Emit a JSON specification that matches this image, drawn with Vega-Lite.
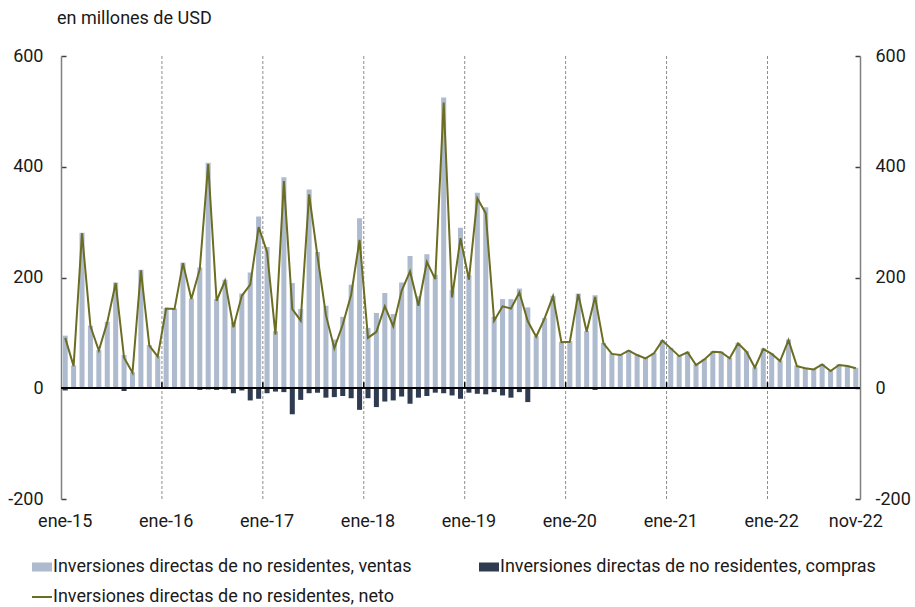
{
  "$schema": "https://vega.github.io/schema/vega-lite/v6.json",
  "width": 799,
  "height": 443,
  "autosize": {"type": "none"},
  "padding": {"left": 61, "top": 56, "right": 55, "bottom": 108},
  "config": {"font": "Roboto", "view": {"stroke": null}},
  "title": {"text": "en millones de USD", "anchor": "start", "frame": "group", "dx": -4, "offset": 19, "fontSize": 18, "fontWeight": "normal", "color": "#1a1a1a", "font": "Roboto"},
  "data": {"values": [
    {"mes": "ene-15", "ventas": 95, "compras": -4, "neto": 91},
    {"mes": "feb-15", "ventas": 41, "compras": -1, "neto": 40},
    {"mes": "mar-15", "ventas": 281, "compras": -1, "neto": 280},
    {"mes": "abr-15", "ventas": 113, "compras": -1, "neto": 112},
    {"mes": "may-15", "ventas": 69, "compras": -1, "neto": 68},
    {"mes": "jun-15", "ventas": 120, "compras": -1, "neto": 119},
    {"mes": "jul-15", "ventas": 191, "compras": -1, "neto": 190},
    {"mes": "ago-15", "ventas": 60, "compras": -5, "neto": 55},
    {"mes": "sep-15", "ventas": 29, "compras": -1, "neto": 28},
    {"mes": "oct-15", "ventas": 214, "compras": -1, "neto": 213},
    {"mes": "nov-15", "ventas": 78, "compras": -1, "neto": 77},
    {"mes": "dic-15", "ventas": 58, "compras": -1, "neto": 57},
    {"mes": "ene-16", "ventas": 145, "compras": -1, "neto": 144},
    {"mes": "feb-16", "ventas": 144, "compras": -1, "neto": 143},
    {"mes": "mar-16", "ventas": 227, "compras": -1, "neto": 226},
    {"mes": "abr-16", "ventas": 162, "compras": -1, "neto": 161},
    {"mes": "may-16", "ventas": 218, "compras": -3, "neto": 215},
    {"mes": "jun-16", "ventas": 407, "compras": -2, "neto": 405},
    {"mes": "jul-16", "ventas": 161, "compras": -3, "neto": 158},
    {"mes": "ago-16", "ventas": 196, "compras": -2, "neto": 194},
    {"mes": "sep-16", "ventas": 119, "compras": -9, "neto": 110},
    {"mes": "oct-16", "ventas": 171, "compras": -4, "neto": 167},
    {"mes": "nov-16", "ventas": 209, "compras": -22, "neto": 187},
    {"mes": "dic-16", "ventas": 310, "compras": -19, "neto": 291},
    {"mes": "ene-17", "ventas": 255, "compras": -9, "neto": 246},
    {"mes": "feb-17", "ventas": 103, "compras": -6, "neto": 97},
    {"mes": "mar-17", "ventas": 381, "compras": -7, "neto": 374},
    {"mes": "abr-17", "ventas": 190, "compras": -47, "neto": 143},
    {"mes": "may-17", "ventas": 143, "compras": -21, "neto": 122},
    {"mes": "jun-17", "ventas": 359, "compras": -9, "neto": 350},
    {"mes": "jul-17", "ventas": 246, "compras": -8, "neto": 238},
    {"mes": "ago-17", "ventas": 149, "compras": -17, "neto": 132},
    {"mes": "sep-17", "ventas": 88, "compras": -16, "neto": 72},
    {"mes": "oct-17", "ventas": 129, "compras": -14, "neto": 115},
    {"mes": "nov-17", "ventas": 187, "compras": -18, "neto": 169},
    {"mes": "dic-17", "ventas": 307, "compras": -39, "neto": 268},
    {"mes": "ene-18", "ventas": 109, "compras": -18, "neto": 91},
    {"mes": "feb-18", "ventas": 136, "compras": -34, "neto": 102},
    {"mes": "mar-18", "ventas": 172, "compras": -24, "neto": 148},
    {"mes": "abr-18", "ventas": 134, "compras": -22, "neto": 112},
    {"mes": "may-18", "ventas": 191, "compras": -15, "neto": 176},
    {"mes": "jun-18", "ventas": 239, "compras": -28, "neto": 211},
    {"mes": "jul-18", "ventas": 166, "compras": -17, "neto": 149},
    {"mes": "ago-18", "ventas": 242, "compras": -14, "neto": 228},
    {"mes": "sep-18", "ventas": 205, "compras": -8, "neto": 197},
    {"mes": "oct-18", "ventas": 525, "compras": -9, "neto": 516},
    {"mes": "nov-18", "ventas": 177, "compras": -13, "neto": 164},
    {"mes": "dic-18", "ventas": 290, "compras": -19, "neto": 271},
    {"mes": "ene-19", "ventas": 204, "compras": -8, "neto": 196},
    {"mes": "feb-19", "ventas": 353, "compras": -10, "neto": 343},
    {"mes": "mar-19", "ventas": 327, "compras": -11, "neto": 316},
    {"mes": "abr-19", "ventas": 129, "compras": -7, "neto": 122},
    {"mes": "may-19", "ventas": 161, "compras": -13, "neto": 148},
    {"mes": "jun-19", "ventas": 161, "compras": -17, "neto": 144},
    {"mes": "jul-19", "ventas": 180, "compras": -7, "neto": 173},
    {"mes": "ago-19", "ventas": 146, "compras": -25, "neto": 121},
    {"mes": "sep-19", "ventas": 94, "compras": -1, "neto": 93},
    {"mes": "oct-19", "ventas": 127, "compras": -1, "neto": 126},
    {"mes": "nov-19", "ventas": 167, "compras": -1, "neto": 166},
    {"mes": "dic-19", "ventas": 84, "compras": -1, "neto": 83},
    {"mes": "ene-20", "ventas": 85, "compras": -1, "neto": 84},
    {"mes": "feb-20", "ventas": 171, "compras": -1, "neto": 170},
    {"mes": "mar-20", "ventas": 103, "compras": -1, "neto": 102},
    {"mes": "abr-20", "ventas": 168, "compras": -3, "neto": 165},
    {"mes": "may-20", "ventas": 82, "compras": -1, "neto": 81},
    {"mes": "jun-20", "ventas": 63, "compras": -1, "neto": 62},
    {"mes": "jul-20", "ventas": 61, "compras": -1, "neto": 60},
    {"mes": "ago-20", "ventas": 69, "compras": -1, "neto": 68},
    {"mes": "sep-20", "ventas": 61, "compras": -1, "neto": 60},
    {"mes": "oct-20", "ventas": 55, "compras": -1, "neto": 54},
    {"mes": "nov-20", "ventas": 64, "compras": -1, "neto": 63},
    {"mes": "dic-20", "ventas": 87, "compras": -1, "neto": 86},
    {"mes": "ene-21", "ventas": 73, "compras": -1, "neto": 72},
    {"mes": "feb-21", "ventas": 59, "compras": -1, "neto": 58},
    {"mes": "mar-21", "ventas": 66, "compras": -1, "neto": 65},
    {"mes": "abr-21", "ventas": 43, "compras": -1, "neto": 42},
    {"mes": "may-21", "ventas": 53, "compras": -1, "neto": 52},
    {"mes": "jun-21", "ventas": 67, "compras": -1, "neto": 66},
    {"mes": "jul-21", "ventas": 66, "compras": -1, "neto": 65},
    {"mes": "ago-21", "ventas": 55, "compras": -1, "neto": 54},
    {"mes": "sep-21", "ventas": 82, "compras": -1, "neto": 81},
    {"mes": "oct-21", "ventas": 67, "compras": -1, "neto": 66},
    {"mes": "nov-21", "ventas": 38, "compras": -1, "neto": 37},
    {"mes": "dic-21", "ventas": 72, "compras": -1, "neto": 71},
    {"mes": "ene-22", "ventas": 63, "compras": -1, "neto": 62},
    {"mes": "feb-22", "ventas": 50, "compras": -1, "neto": 49},
    {"mes": "mar-22", "ventas": 88, "compras": -1, "neto": 87},
    {"mes": "abr-22", "ventas": 41, "compras": -1, "neto": 40},
    {"mes": "may-22", "ventas": 37, "compras": -1, "neto": 36},
    {"mes": "jun-22", "ventas": 35, "compras": -1, "neto": 34},
    {"mes": "jul-22", "ventas": 44, "compras": -1, "neto": 43},
    {"mes": "ago-22", "ventas": 32, "compras": -1, "neto": 31},
    {"mes": "sep-22", "ventas": 43, "compras": -1, "neto": 42},
    {"mes": "oct-22", "ventas": 41, "compras": -1, "neto": 40},
    {"mes": "nov-22", "ventas": 37, "compras": -1, "neto": 36}
  ]},
  "encoding": {
    "x": {
      "field": "mes", "type": "ordinal", "sort": null,
      "scale": {"paddingInner": 0.4, "paddingOuter": 0.2},
      "axis": {
        "title": null, "ticks": false, "domain": false, "grid": false,
        "labelAngle": 0, "labelFontSize": 18, "labelColor": "#1a1a1a", "labelFont": "Roboto",
        "labelPadding": 13, "labelOverlap": false, "labelBound": false,
        "labelExpr": "indexof(datum.label, 'ene-') === 0 || datum.label === 'nov-22' ? datum.label : ''"
      }
    }
  },
  "layer": [
    {
      "mark": {"type": "bar"},
      "encoding": {
        "y": {"field": "ventas", "type": "quantitative", "scale": {"domain": [-200, 600], "nice": false, "zero": false},
          "axis": {"orient": "left", "values": [-200, 0, 200, 400, 600], "title": null, "grid": false,
            "domainColor": "#808080", "domainWidth": 1.5, "tickColor": "#404040", "tickSize": -5, "tickWidth": 1.5,
            "labelFontSize": 18, "labelColor": "#1a1a1a", "labelFont": "Roboto", "labelPadding": 23,
            "labelExpr": "toString(datum.value)"}},
        "color": {"datum": "Inversiones directas de no residentes, ventas", "type": "nominal",
          "scale": {"domain": ["Inversiones directas de no residentes, ventas", "Inversiones directas de no residentes, neto", "Inversiones directas de no residentes, compras"],
            "range": ["#aebbcf", "#6b6d22", "#2f3b50"]},
          "legend": {
            "orient": "none", "legendX": -28, "legendY": 502, "columns": 2, "title": null, "padding": 0,
            "labelFontSize": 18, "labelFont": "Roboto", "labelColor": "#1a1a1a", "labelOffset": 2,
            "symbolSize": 400, "columnPadding": 67, "rowPadding": 12, "labelLimit": 500,
            "encode": {"symbols": {"update": {
              "shape": {"signal": "datum.label === 'Inversiones directas de no residentes, neto' ? 'stroke' : 'M-1,-0.45H1V0.45H-1Z'"},
              "fill": {"signal": "scale('color', datum.value)"},
              "stroke": {"signal": "scale('color', datum.value)"},
              "strokeWidth": {"signal": "datum.label === 'Inversiones directas de no residentes, neto' ? 2 : 0"},
              "opacity": {"value": 1}, "fillOpacity": {"value": 1}, "strokeOpacity": {"value": 1}
            }}}
          }
        }
      }
    },
    {
      "mark": {"type": "bar"},
      "encoding": {
        "y": {"field": "compras", "type": "quantitative", "scale": {"domain": [-200, 600], "nice": false, "zero": false}, "axis": null},
        "color": {"datum": "Inversiones directas de no residentes, compras", "type": "nominal",
          "scale": {"domain": ["Inversiones directas de no residentes, ventas", "Inversiones directas de no residentes, neto", "Inversiones directas de no residentes, compras"],
            "range": ["#aebbcf", "#6b6d22", "#2f3b50"]}}
      }
    },
    {
      "transform": [{"filter": "indexof(datum.mes, 'ene-') === 0 && datum.mes !== 'ene-15'"}],
      "mark": {"type": "rule", "color": "#8c8c8c", "strokeWidth": 1, "strokeDash": [3, 2]},
      "encoding": {"x": {"field": "mes", "type": "ordinal", "sort": null, "bandPosition": -0.333}}
    },
    {
      "mark": {"type": "rule", "color": "#000000", "strokeWidth": 1.5},
      "encoding": {"y": {"datum": 0, "type": "quantitative", "scale": {"domain": [-200, 600], "nice": false, "zero": false}, "axis": null}, "x": null}
    },
    {
      "transform": [{"filter": "indexof(datum.mes, 'ene-') === 0 && datum.mes !== 'ene-15'"}],
      "mark": {"type": "rule", "color": "#000000", "strokeWidth": 1.5},
      "encoding": {
        "x": {"field": "mes", "type": "ordinal", "sort": null, "bandPosition": -0.333},
        "y": {"datum": 0, "type": "quantitative", "scale": {"domain": [-200, 600], "nice": false, "zero": false}, "axis": null},
        "y2": {"datum": 11}
      }
    },
    {
      "mark": {"type": "line", "strokeWidth": 2},
      "encoding": {
        "y": {"field": "neto", "type": "quantitative", "scale": {"domain": [-200, 600], "nice": false, "zero": false},
          "axis": {"orient": "right", "values": [-200, 0, 200, 400, 600], "title": null, "grid": false,
            "domainColor": "#808080", "domainWidth": 1.5, "tickColor": "#404040", "tickSize": -5, "tickWidth": 1.5,
            "labelFontSize": 18, "labelColor": "#1a1a1a", "labelFont": "Roboto", "labelPadding": 20,
            "labelExpr": "toString(datum.value)"}},
        "color": {"datum": "Inversiones directas de no residentes, neto", "type": "nominal",
          "scale": {"domain": ["Inversiones directas de no residentes, ventas", "Inversiones directas de no residentes, neto", "Inversiones directas de no residentes, compras"],
            "range": ["#aebbcf", "#6b6d22", "#2f3b50"]}}
      }
    }
  ],
  "resolve": {"axis": {"y": "independent"}}
}
